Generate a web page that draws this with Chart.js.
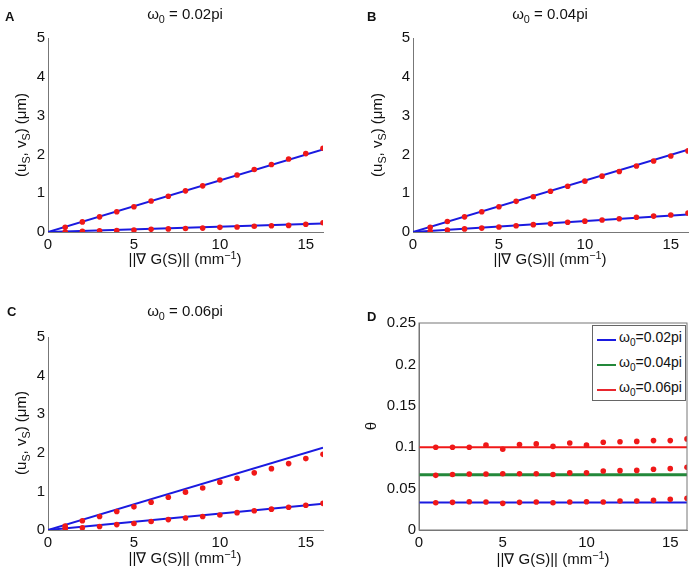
<!DOCTYPE html>
<html>
<head>
<meta charset="utf-8">
<script src="https://cdn.jsdelivr.net/npm/chart.js@4/dist/chart.umd.min.js"></script>
<style>
  body { margin: 0; background: #fff; }
  #fig { position: relative; width: 700px; height: 574px; font-family: "Liberation Sans", Arial, sans-serif; color: #111; }
  #fig canvas { position: absolute; }
  .t { position: absolute; font-size: 15px; line-height: 1; white-space: nowrap; }
  .letter { position: absolute; font-size: 13px; font-weight: bold; line-height: 1; }
  .ctr { transform: translateX(-50%); }
  .rot { transform: translate(-50%, -50%) rotate(-90deg); }
  sub, sup { font-size: 0.72em; line-height: 0; }
  sub { vertical-align: -0.4em; }
  sup { vertical-align: 0.5em; }
  #legend { position: absolute; left: 592px; top: 325px; width: 94px; height: 76px; border: 1px solid #666; background: #fff; box-sizing: border-box; }
  #legend div { position: absolute; left: 26px; font-size: 14px; line-height: 1; white-space: nowrap; }
  #legend span { position: absolute; left: 4px; width: 19px; height: 0; }
</style>
</head>
<body>
<div id="fig">
  <canvas id="chartA" width="350" height="287" style="left:0;top:0"></canvas>
  <canvas id="chartB" width="350" height="287" style="left:350px;top:0"></canvas>
  <canvas id="chartC" width="350" height="287" style="left:0;top:287px"></canvas>
  <canvas id="chartD" width="350" height="287" style="left:350px;top:287px"></canvas>

  <div class="letter" style="left:5px;top:10px">A</div>
  <div class="letter" style="left:367px;top:10px">B</div>
  <div class="letter" style="left:7px;top:305px">C</div>
  <div class="letter" style="left:367px;top:310px">D</div>

  <div class="t ctr" style="left:185px;top:6px">ω<sub>0</sub> = 0.02pi</div>
  <div class="t ctr" style="left:550px;top:6px">ω<sub>0</sub> = 0.04pi</div>
  <div class="t ctr" style="left:185px;top:303px">ω<sub>0</sub> = 0.06pi</div>

  <div class="t ctr" style="left:185px;top:251px">||∇ G(S)|| (mm<sup>−1</sup>)</div>
  <div class="t ctr" style="left:550px;top:251px">||∇ G(S)|| (mm<sup>−1</sup>)</div>
  <div class="t ctr" style="left:185px;top:550px">||∇ G(S)|| (mm<sup>−1</sup>)</div>
  <div class="t ctr" style="left:553px;top:551px">||∇ G(S)|| (mm<sup>−1</sup>)</div>

  <div class="t rot" style="left:20px;top:135px">(u<sub>S</sub>, v<sub>S</sub>) (μm)</div>
  <div class="t rot" style="left:376px;top:135px">(u<sub>S</sub>, v<sub>S</sub>) (μm)</div>
  <div class="t rot" style="left:20px;top:433px">(u<sub>S</sub>, v<sub>S</sub>) (μm)</div>
  <div class="t rot" style="left:370px;top:426px">θ</div>

  <div id="legend">
    <span style="top:13px;border-top:2px solid #1a1ae0"></span><div style="top:4px">ω<sub>0</sub>=0.02pi</div>
    <span style="top:38px;border-top:2px solid #23883a"></span><div style="top:29px">ω<sub>0</sub>=0.04pi</div>
    <span style="top:63px;border-top:2px solid #e8262e"></span><div style="top:54px">ω<sub>0</sub>=0.06pi</div>
  </div>
</div>

<script>
// ---- data ----
const gradNorm = [1, 2, 3, 4, 5, 6, 7, 8, 9, 10, 11, 12, 13, 14, 15, 16];
const fitX = [0, 16];
const xTicks = [0, 5, 10, 15];
const dispTicks = [0, 1, 2, 3, 4, 5];
const thetaTicks = [0, 0.05, 0.1, 0.15, 0.2, 0.25];

// panel A, w0 = 0.02pi
const aUpperFit = [0, 2.13];
const aLowerFit = [0, 0.22];
const aUpperPts = [0.12, 0.26, 0.39, 0.52, 0.65, 0.80, 0.92, 1.06, 1.19, 1.34, 1.47, 1.61, 1.74, 1.88, 2.02, 2.16];
const aLowerPts = [0.0, 0.02, 0.03, 0.04, 0.05, 0.07, 0.08, 0.09, 0.10, 0.12, 0.13, 0.15, 0.16, 0.17, 0.20, 0.24];

// panel B, w0 = 0.04pi
const bUpperFit = [0, 2.12];
const bLowerFit = [0, 0.45];
const bUpperPts = [0.12, 0.27, 0.39, 0.52, 0.65, 0.79, 0.91, 1.05, 1.18, 1.31, 1.44, 1.56, 1.70, 1.83, 1.96, 2.09];
const bLowerPts = [0.01, 0.05, 0.08, 0.10, 0.13, 0.16, 0.19, 0.21, 0.25, 0.28, 0.31, 0.34, 0.38, 0.41, 0.44, 0.49];

// panel C, w0 = 0.06pi
const cUpperFit = [0, 2.13];
const cLowerFit = [0, 0.68];
const cUpperPts = [0.10, 0.24, 0.35, 0.48, 0.60, 0.72, 0.85, 0.98, 1.09, 1.24, 1.34, 1.48, 1.59, 1.72, 1.85, 1.96];
const cLowerPts = [0.03, 0.06, 0.09, 0.14, 0.17, 0.22, 0.27, 0.31, 0.35, 0.39, 0.45, 0.50, 0.54, 0.59, 0.64, 0.69];

// panel D, theta
const theta02Fit = [0.0333, 0.0333];
const theta04Fit = [0.0667, 0.0667];
const theta06Fit = [0.1, 0.1];
const theta02Pts = [0.033, 0.0334, 0.0342, 0.0338, 0.0322, 0.0334, 0.0338, 0.033, 0.0338, 0.0342, 0.0338, 0.035, 0.035, 0.0358, 0.037, 0.0383];
const theta04Pts = [0.066, 0.067, 0.0676, 0.0676, 0.068, 0.068, 0.068, 0.067, 0.069, 0.069, 0.0713, 0.0717, 0.072, 0.0733, 0.0741, 0.0757];
const theta06Pts = [0.100, 0.100, 0.100, 0.1025, 0.0975, 0.1033, 0.104, 0.101, 0.105, 0.1025, 0.106, 0.1065, 0.107, 0.108, 0.108, 0.110];

const BLUE = '#1a1ae0';
const GREEN = '#23883a';
const RED = '#f01818';
const AXIS = '#777';
const FONT = { family: '"Liberation Sans", Arial, sans-serif', size: 15 };

function pts(xs, ys) { return xs.map((x, i) => ({ x: x, y: ys[i] })); }

function dots(ys) {
  return { type: 'scatter', data: pts(gradNorm, ys), showLine: false, pointRadius: 2.8, pointBorderWidth: 0, pointBackgroundColor: RED };
}
function fit(ys, color, w) {
  return { type: 'line', data: pts(fitX, ys), borderColor: color, borderWidth: w || 2, pointRadius: 0, fill: false };
}

// box around plot area (panel D only)
const boxPlugin = {
  id: 'box',
  afterDraw(chart, args, opts) {
    if (!opts.on) return;
    const a = chart.chartArea, ctx = chart.ctx;
    ctx.save();
    ctx.strokeStyle = AXIS;
    ctx.lineWidth = 1;
    ctx.strokeRect(a.left, a.top, a.right - a.left, a.bottom - a.top);
    ctx.restore();
  }
};

// area = [left, top, right, bottom] of plot inside the canvas
function makePanel(id, datasets, area, yMax, yTicks, boxed) {
  const W = 350, H = 287;
  new Chart(document.getElementById(id), {
    type: 'scatter',
    data: { datasets: datasets },
    plugins: [boxPlugin],
    options: {
      responsive: false,
      animation: false,
      layout: { padding: { left: 0, top: area[1], right: W - area[2], bottom: 0 } },
      plugins: { legend: { display: false }, tooltip: { enabled: false }, box: { on: boxed } },
      scales: {
        x: {
          type: 'linear', min: 0, max: 16,
          afterBuildTicks: s => { s.ticks = xTicks.map(v => ({ value: v })); },
          afterFit: s => { s.height = H - area[3]; },
          grid: { drawOnChartArea: false, drawTicks: false },
          border: { display: true, color: AXIS, width: 1 },
          ticks: { color: '#111', font: FONT, padding: 4, maxRotation: 0 }
        },
        y: {
          type: 'linear', min: 0, max: yMax,
          afterBuildTicks: s => { s.ticks = yTicks.map(v => ({ value: v })); },
          afterFit: s => { s.width = area[0]; },
          grid: { drawOnChartArea: false, drawTicks: false },
          border: { display: true, color: AXIS, width: 1 },
          ticks: { color: '#111', font: FONT, padding: 3, callback: v => String(+v.toFixed(2)) }
        }
      }
    }
  });
}

makePanel('chartA', [dots(aUpperPts), dots(aLowerPts), fit(aUpperFit, BLUE), fit(aLowerFit, BLUE)], [48, 38, 323, 232], 5, dispTicks, false);
makePanel('chartB', [dots(bUpperPts), dots(bLowerPts), fit(bUpperFit, BLUE), fit(bLowerFit, BLUE)], [63, 38, 338, 232], 5, dispTicks, false);
makePanel('chartC', [dots(cUpperPts), dots(cLowerPts), fit(cUpperFit, BLUE), fit(cLowerFit, BLUE)], [48, 50, 323, 243], 5, dispTicks, false);
makePanel('chartD', [dots(theta06Pts), dots(theta04Pts), dots(theta02Pts), fit(theta02Fit, BLUE, 2), fit(theta04Fit, GREEN, 3), fit(theta06Fit, RED, 2)], [69, 36, 337, 243], 0.25, thetaTicks, true);
</script>
</body>
</html>
